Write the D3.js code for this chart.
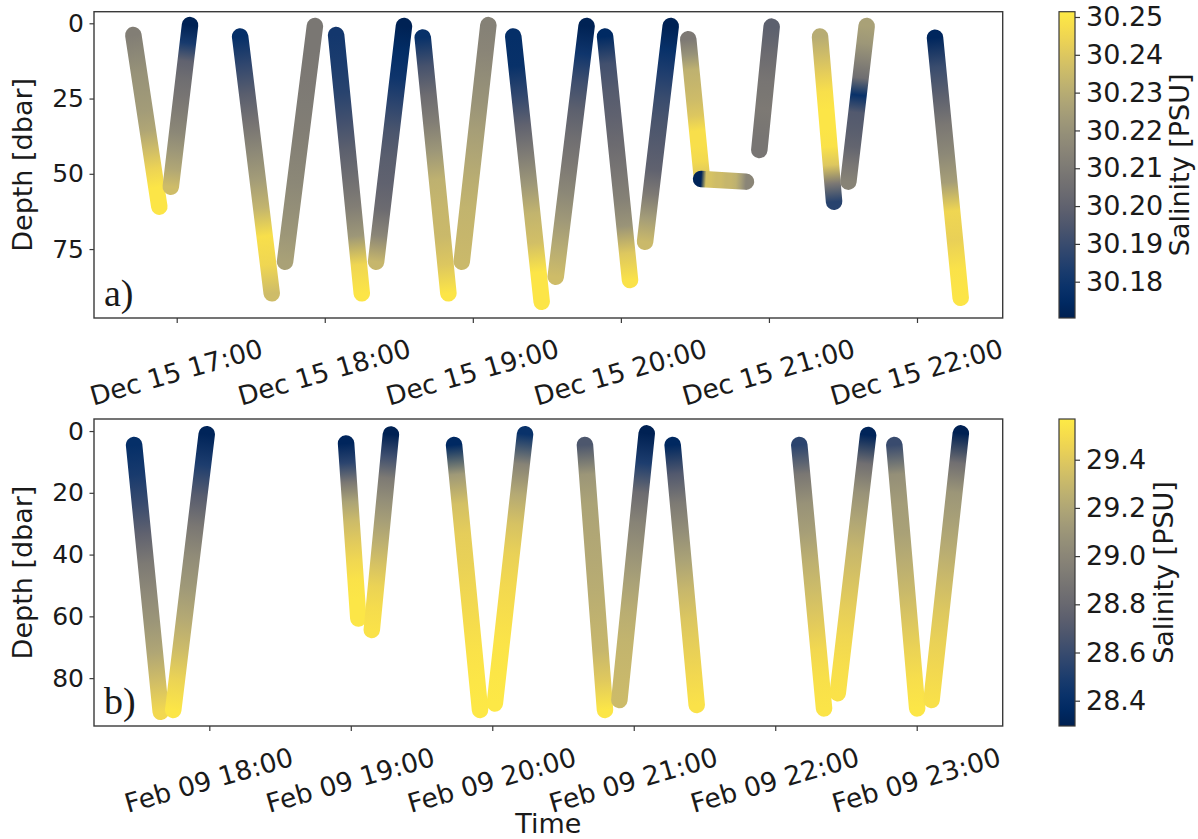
<!DOCTYPE html>
<html>
<head>
<meta charset="utf-8">
<script src="https://cdn.jsdelivr.net/npm/d3@7"></script>
<style>
  body { margin: 0; background: #fff; }
  svg text { font-family: "DejaVu Sans", sans-serif; fill: #1a1a1a; }
</style>
</head>
<body>
<div id="chart"></div>
<script>
// one row per cast: [start time, start depth, end time, end depth, salinity read along the cast]
var dateA = "2019-12-15";
var castsA = [
  ["16:42:25", 3.9, "16:52:57", 60.9, [30.212, 30.216, 30.220, 30.222, 30.224, 30.228, 30.236, 30.244, 30.250, 30.250]],
  ["16:57:36", 54.3, "17:05:24", 0.6, [30.236, 30.228, 30.222, 30.216, 30.212, 30.208, 30.205, 30.200, 30.182, 30.171]],
  ["17:25:42", 4.4, "17:38:30", 89.7, [30.177, 30.188, 30.198, 30.207, 30.216, 30.224, 30.233, 30.248, 30.245, 30.236]],
  ["17:43:54", 79.2, "17:56:00", 0.9, [30.226, 30.222, 30.219, 30.216, 30.214, 30.212, 30.211, 30.210, 30.209, 30.209]],
  ["18:04:36", 3.9, "18:15:00", 89.7, [30.181, 30.183, 30.186, 30.192, 30.199, 30.205, 30.212, 30.222, 30.245, 30.250]],
  ["18:20:48", 79.2, "18:32:06", 0.9, [30.234, 30.215, 30.204, 30.200, 30.198, 30.194, 30.187, 30.180, 30.176, 30.171]],
  ["18:39:42", 4.7, "18:50:06", 89.7, [30.178, 30.193, 30.204, 30.212, 30.222, 30.232, 30.234, 30.235, 30.240, 30.250]],
  ["18:55:30", 79.2, "19:06:18", 0.6, [30.235, 30.234, 30.233, 30.231, 30.228, 30.225, 30.221, 30.218, 30.215, 30.213]],
  ["19:16:24", 4.4, "19:27:54", 92.5, [30.177, 30.178, 30.188, 30.200, 30.211, 30.222, 30.233, 30.237, 30.250, 30.250]],
  ["19:33:36", 84.2, "19:46:06", 0.9, [30.236, 30.230, 30.223, 30.216, 30.210, 30.205, 30.199, 30.191, 30.180, 30.171]],
  ["19:53:36", 4.4, "20:03:42", 85.3, [30.175, 30.192, 30.197, 30.200, 30.204, 30.208, 30.213, 30.221, 30.240, 30.249]],
  ["20:09:48", 72.6, "20:20:12", 0.9, [30.235, 30.224, 30.210, 30.200, 30.197, 30.194, 30.190, 30.184, 30.178, 30.171]],
  ["20:27:18", 5.3, "20:32:48", 51.0, [30.210, 30.220, 30.232, 30.234, 30.236, 30.240, 30.248, 30.248, 30.246, 30.240]],
  ["20:32:30", 51.7, "20:50:42", 52.6, [30.172, 30.238, 30.238, 30.236, 30.236, 30.234, 30.234, 30.232, 30.225, 30.215]],
  ["20:56:06", 42.1, "21:01:06", 1.1, [30.208, 30.208, 30.209, 30.210, 30.209, 30.208, 30.206, 30.204, 30.201, 30.199]],
  ["21:20:42", 4.4, "21:26:24", 59.3, [30.230, 30.236, 30.242, 30.248, 30.250, 30.250, 30.249, 30.240, 30.210, 30.186]],
  ["21:32:12", 52.6, "21:39:36", 0.9, [30.214, 30.208, 30.201, 30.198, 30.196, 30.178, 30.205, 30.214, 30.222, 30.226]],
  ["22:07:18", 4.8, "22:17:42", 91.2, [30.173, 30.190, 30.199, 30.209, 30.216, 30.225, 30.245, 30.243, 30.249, 30.250]]
];
var xlimA = ["16:26:29", "22:34:44"];
var ylimA = [-3.85, 97.9];
var depthTicksA = [0, 25, 50, 75];
var timeTicksA = ["17:00:00", "18:00:00", "19:00:00", "20:00:00", "21:00:00", "22:00:00"];
var salRangeA = [30.1704, 30.2514];
var salTicksA = [30.18, 30.19, 30.20, 30.21, 30.22, 30.23, 30.24, 30.25];

var dateB = "2020-02-09";
var castsB = [
  ["17:28:06", 4.5, "17:39:24", 90.9, [28.40, 28.48, 28.60, 28.76, 28.92, 29.02, 29.10, 29.20, 29.34, 29.48]],
  ["17:44:42", 90.3, "17:58:54", 1.0, [29.55, 29.45, 29.32, 29.22, 29.12, 29.04, 28.90, 28.72, 28.50, 28.32]],
  ["18:58:00", 4.0, "19:03:12", 60.7, [28.33, 28.55, 28.90, 29.18, 29.32, 29.40, 29.47, 29.53, 29.55, 29.55]],
  ["19:08:54", 64.4, "19:17:00", 1.1, [29.53, 29.50, 29.45, 29.36, 29.26, 29.16, 29.05, 28.92, 28.62, 28.30]],
  ["19:43:48", 4.5, "19:54:48", 90.3, [28.36, 29.12, 29.35, 29.42, 29.44, 29.47, 29.50, 29.53, 29.55, 29.56]],
  ["20:01:06", 88.2, "20:13:54", 1.0, [29.56, 29.55, 29.54, 29.51, 29.48, 29.44, 29.36, 29.22, 28.98, 28.42]],
  ["20:39:18", 4.5, "20:47:48", 90.3, [28.68, 29.10, 29.18, 29.20, 29.22, 29.24, 29.27, 29.30, 29.40, 29.55]],
  ["20:53:54", 87.1, "21:05:30", 0.75, [29.32, 29.30, 29.28, 29.24, 29.17, 29.08, 28.98, 28.82, 28.50, 28.30]],
  ["21:16:30", 4.5, "21:26:42", 88.7, [28.35, 28.70, 28.92, 29.05, 29.18, 29.30, 29.38, 29.43, 29.48, 29.53]],
  ["22:10:12", 4.5, "22:20:42", 89.8, [28.55, 28.90, 29.08, 29.16, 29.26, 29.33, 29.40, 29.48, 29.52, 29.54]],
  ["22:26:30", 84.9, "22:39:24", 1.3, [29.53, 29.51, 29.47, 29.42, 29.36, 29.30, 29.20, 29.08, 28.85, 28.32]],
  ["22:50:30", 4.5, "23:00:12", 89.8, [28.60, 29.06, 29.14, 29.17, 29.24, 29.31, 29.38, 29.45, 29.51, 29.55]],
  ["23:06:18", 87.1, "23:18:42", 0.75, [29.52, 29.48, 29.44, 29.39, 29.32, 29.24, 29.17, 29.10, 28.85, 28.30]]
];
var xlimB = ["17:11:06", "23:36:28"];
var ylimB = [-3.9, 95.5];
var depthTicksB = [0, 20, 40, 60, 80];
var timeTicksB = ["18:00:00", "19:00:00", "20:00:00", "21:00:00", "22:00:00", "23:00:00"];
var salRangeB = [28.295, 29.569];
var salTicksB = [28.4, 28.6, 28.8, 29.0, 29.2, 29.4];

var parseTime = d3.timeParse("%Y-%m-%d %H:%M:%S");
var width = 1198, height = 839;
var svg = d3.select("#chart").append("svg")
    .attr("width", width)
    .attr("height", height);
var defs = svg.append("defs");

function drawPanel(p) {
    var t = s => parseTime(p.date + " " + s);
    var x = d3.scaleTime()
        .domain([t(p.xlim[0]), t(p.xlim[1])])
        .range([94, 1002.7]);
    var y = d3.scaleLinear()
        .domain(p.ylim)
        .range([p.top, p.bottom]);
    var color = d3.scaleSequential(d3.interpolateCividis).domain(p.salRange);

    // casts drawn as thick round-capped strokes, coloured along their length
    var g = svg.append("g");
    p.casts.forEach((c, i) => {
        var id = p.name + "-cast" + i;
        var x1 = x(t(c[0])), y1 = y(c[1]), x2 = x(t(c[2])), y2 = y(c[3]);
        var grad = defs.append("linearGradient")
            .attr("id", id)
            .attr("gradientUnits", "userSpaceOnUse")
            .attr("x1", x1).attr("y1", y1)
            .attr("x2", x2).attr("y2", y2);
        grad.selectAll("stop")
            .data(c[4])
            .join("stop")
            .attr("offset", (d, j) => j / (c[4].length - 1))
            .attr("stop-color", d => color(d));
        g.append("line")
            .attr("x1", x1).attr("y1", y1)
            .attr("x2", x2).attr("y2", y2)
            .attr("stroke", `url(#${id})`)
            .attr("stroke-width", 16.5)
            .attr("stroke-linecap", "round");
    });

    // frame
    svg.append("rect")
        .attr("x", 94).attr("y", p.top)
        .attr("width", 1002.7 - 94).attr("height", p.bottom - p.top)
        .attr("fill", "none")
        .attr("stroke", "#3a3a3a")
        .attr("stroke-width", 1.4);

    var xAxis = svg.append("g")
        .attr("transform", `translate(0,${p.bottom})`)
        .call(d3.axisBottom(x)
            .tickValues(p.timeTicks.map(t))
            .tickFormat(d3.timeFormat("%b %d %H:%M"))
            .tickSize(5));
    xAxis.select(".domain").remove();
    xAxis.selectAll(".tick line").attr("stroke", "#3a3a3a").attr("stroke-width", 1.2);
    xAxis.selectAll(".tick text")
        .attr("y", null).attr("dy", null)
        .attr("fill", "#1a1a1a")
        .style("font-size", "26.5px")
        .attr("text-anchor", "middle")
        .attr("dominant-baseline", "central")
        .attr("transform", "translate(-1,54) rotate(-16)");

    var yAxis = svg.append("g")
        .attr("transform", "translate(94,0)")
        .call(d3.axisLeft(y)
            .tickValues(p.depthTicks)
            .tickSize(4.5)
            .tickPadding(5.5));
    yAxis.select(".domain").remove();
    yAxis.selectAll(".tick line").attr("stroke", "#3a3a3a").attr("stroke-width", 1.2);
    yAxis.selectAll(".tick text")
        .attr("fill", "#1a1a1a")
        .style("font-size", "25px");

    svg.append("text")
        .attr("transform", `translate(32,${(p.top + p.bottom) / 2}) rotate(-90)`)
        .attr("text-anchor", "middle")
        .style("font-size", "27px")
        .text("Depth [dbar]");

    svg.append("text")
        .attr("x", 104)
        .attr("y", p.bottom - 12)
        .style("font-family", "'Liberation Serif', 'Times New Roman', serif")
        .style("font-size", "38px")
        .text(p.letter);

    // colour bar
    var cy = d3.scaleLinear().domain(p.salRange).range([p.bottom, p.top]);
    var cbId = p.name + "-cbar";
    var cbGrad = defs.append("linearGradient")
        .attr("id", cbId)
        .attr("x1", 0).attr("y1", 1)
        .attr("x2", 0).attr("y2", 0);
    cbGrad.selectAll("stop")
        .data(d3.range(0, 1.0001, 0.05))
        .join("stop")
        .attr("offset", d => d)
        .attr("stop-color", d => d3.interpolateCividis(d));
    svg.append("rect")
        .attr("x", 1059).attr("y", p.top)
        .attr("width", 16).attr("height", p.bottom - p.top)
        .attr("fill", `url(#${cbId})`)
        .attr("stroke", "#3a3a3a")
        .attr("stroke-width", 1.2);
    var cAxis = svg.append("g")
        .attr("transform", "translate(1075,0)")
        .call(d3.axisRight(cy)
            .tickValues(p.salTicks)
            .tickFormat(d3.format(p.salFormat))
            .tickSize(5)
            .tickPadding(6));
    cAxis.select(".domain").remove();
    cAxis.selectAll(".tick line").attr("stroke", "#3a3a3a").attr("stroke-width", 1.2);
    cAxis.selectAll(".tick text")
        .attr("fill", "#1a1a1a")
        .style("font-size", "27px");

    svg.append("text")
        .attr("transform", `translate(${p.cbLabelX},${(p.top + p.bottom) / 2}) rotate(-90)`)
        .attr("text-anchor", "middle")
        .style("font-size", "27px")
        .text("Salinity [PSU]");
}

drawPanel({
    name: "a", letter: "a)", date: dateA, casts: castsA,
    xlim: xlimA, ylim: ylimA, top: 11.7, bottom: 318,
    depthTicks: depthTicksA, timeTicks: timeTicksA,
    salRange: salRangeA, salTicks: salTicksA, salFormat: ".2f", cbLabelX: 1189
});
drawPanel({
    name: "b", letter: "b)", date: dateB, casts: castsB,
    xlim: xlimB, ylim: ylimB, top: 419, bottom: 726,
    depthTicks: depthTicksB, timeTicks: timeTicksB,
    salRange: salRangeB, salTicks: salTicksB, salFormat: ".1f", cbLabelX: 1173
});

svg.append("text")
    .attr("x", (94 + 1002.7) / 2)
    .attr("y", 833)
    .attr("text-anchor", "middle")
    .style("font-size", "27px")
    .text("Time");
</script>
</body>
</html>
